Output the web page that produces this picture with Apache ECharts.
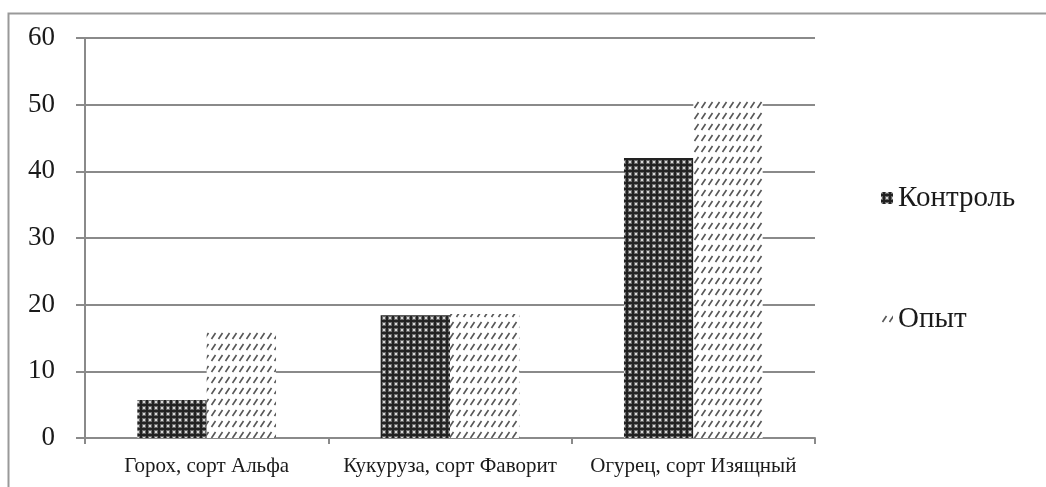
<!DOCTYPE html>
<html>
<head>
<meta charset="utf-8">
<script src="https://cdn.jsdelivr.net/npm/echarts@6/dist/echarts.min.js"></script>
<style>
html,body{margin:0;padding:0;background:#fff}
#chart{width:1046px;height:487px}
</style>
</head>
<body>
<div id="chart"></div>
<script>
var categories = ['Горох, сорт Альфа', 'Кукуруза, сорт Фаворит', 'Огурец, сорт Изящный']
var controlData = [5.7, 18.4, 42]   // Контроль
var opytData = [16, 18.6, 50.8]      // Опыт
var yTicks = {min: 0, max: 60, interval: 10}

function makeControlPattern(){   //тёмная клетка
	var c = document.createElement('canvas')
	c.width = 6; c.height = 6
	var ctx = c.getContext('2d')
	ctx.fillStyle = '#6a6a6a'
	ctx.fillRect(0, 0, 6, 6)
	ctx.fillStyle = '#222'
	ctx.fillRect(0, 2, 6, 2)
	ctx.fillRect(2, 0, 2, 6)
	ctx.fillStyle = '#d8d8d8'
	ctx.fillRect(0, 0, 1, 1)
	ctx.fillRect(5, 5, 1, 1)
	ctx.fillRect(5, 0, 1, 1)
	ctx.fillRect(0, 5, 1, 1)
	return c
}
function makeOpytPattern(){   //косые штрихи
	var c = document.createElement('canvas')
	c.width = 7; c.height = 11
	var ctx = c.getContext('2d')
	ctx.fillStyle = '#ffffff'
	ctx.fillRect(0, 0, 7, 11)
	ctx.strokeStyle = '#555'
	ctx.lineWidth = 1.6
	ctx.beginPath()
	ctx.moveTo(1.5, 9)
	ctx.lineTo(5.5, 3)
	ctx.stroke()
	return c
}

var myChart = echarts.init(document.getElementById('chart'))
var option = {
	animation: false,
	backgroundColor: '#fff',
	graphic: [{
		type: 'rect',
		shape: {x: 8.5, y: 13.5, width: 1100, height: 600},
		style: {fill: 'none', stroke: '#999', lineWidth: 2}
	}],
	grid: {left: 85, right: 231, top: 38, bottom: 49},
	legend: {
		orient: 'vertical',
		left: 876,
		top: 177,
		itemGap: 89,
		itemWidth: 12,
		itemHeight: 12,
		icon: 'rect',
		textStyle: {fontFamily: 'Liberation Serif', fontSize: 29, lineHeight: 32, color: '#1a1a1a'},
		data: ['Контроль', 'Опыт']
	},
	xAxis: {
		type: 'category',
		data: categories,
		axisLine: {lineStyle: {color: '#8a8a8a', width: 2}},
		axisTick: {show: true, interval: 0, length: 6, lineStyle: {color: '#8a8a8a', width: 2}},
		axisLabel: {interval: 0, fontFamily: 'Liberation Serif', fontSize: 21, color: '#1a1a1a', margin: 18}
	},
	yAxis: {
		type: 'value',
		min: yTicks.min,
		max: yTicks.max,
		interval: yTicks.interval,
		axisLine: {show: true, lineStyle: {color: '#8a8a8a', width: 2}},
		axisTick: {show: true, length: 9, lineStyle: {color: '#8a8a8a', width: 2}},
		splitLine: {lineStyle: {color: '#8a8a8a', width: 2}},
		axisLabel: {fontFamily: 'Liberation Serif', fontSize: 27, color: '#1a1a1a', margin: 30, padding: [9, 0, 0, 0]}
	},
	series: [{
		name: 'Контроль',
		type: 'bar',
		data: controlData,
		barGap: '0%',
		barCategoryGap: '43%',
		itemStyle: {color: {image: makeControlPattern(), repeat: 'repeat'}}
	}, {
		name: 'Опыт',
		type: 'bar',
		data: opytData,
		barGap: '0%',
		barCategoryGap: '43%',
		itemStyle: {color: {image: makeOpytPattern(), repeat: 'repeat'}}
	}]
}
myChart.setOption(option)
</script>
</body>
</html>
